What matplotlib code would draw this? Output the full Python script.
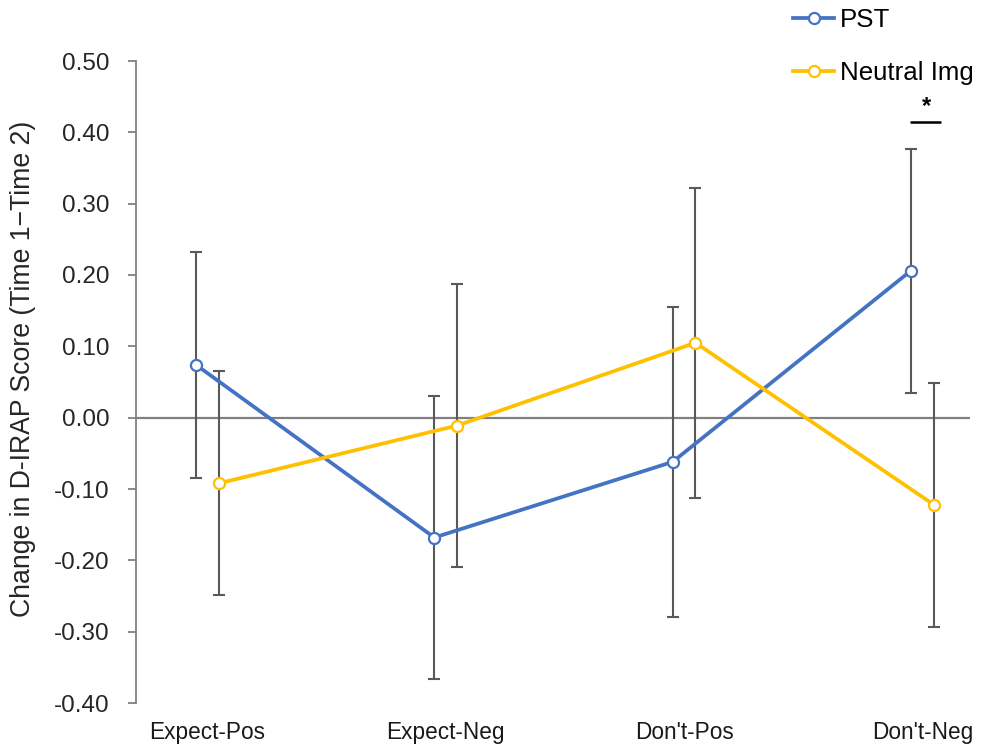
import matplotlib
matplotlib.use("Agg")
import matplotlib.pyplot as plt
import numpy as np

plt.rcParams['font.family'] = ['Liberation Sans', 'DejaVu Sans']

categories = ["Expect-Pos", "Expect-Neg", "Don't-Pos", "Don't-Neg"]
pst_mean = [0.074, -0.168, -0.062, 0.206]
pst_err = [0.158, 0.199, 0.217, 0.171]
neutral_mean = [-0.092, -0.011, 0.105, -0.122]
neutral_err = [0.157, 0.198, 0.217, 0.171]
yticks = [-0.40, -0.30, -0.20, -0.10, 0.00, 0.10, 0.20, 0.30, 0.40, 0.50]

blue = "#4472C4"
gold = "#FFC000"
bar_gray = "#595959"
axis_gray = "#808080"

fig = plt.figure(figsize=(9.88, 7.44), dpi=100)
ax = fig.add_axes([136 / 988, 41 / 744, 834 / 988, 642 / 744])

x = np.arange(len(categories))
shift = 0.048
x_pst = x - shift
x_neu = x + shift

# horizontal reference line at zero
ax.axhline(0, color=axis_gray, lw=1.6, zorder=1)

for xs, m, e in [(x_pst, pst_mean, pst_err), (x_neu, neutral_mean, neutral_err)]:
    ax.errorbar(xs, m, yerr=e, fmt='none', ecolor=bar_gray, elinewidth=1.5,
                capsize=4, capthick=1.5, zorder=2)

ax.plot(x_pst, pst_mean, color=blue, lw=2.7, marker='o', ms=8,
        mfc='white', mec=blue, mew=1.6, zorder=3, label="PST")
ax.plot(x_neu, neutral_mean, color=gold, lw=2.7, marker='o', ms=8,
        mfc='white', mec=gold, mew=1.6, zorder=4, label="Neutral Img")

# significance marker over the last pair
ax.plot([x_pst[3] - 0.004, x_neu[3] + 0.03], [0.414, 0.414], color='black',
        lw=1.8, solid_capstyle='butt', clip_on=False)
ax.text((x_pst[3] + x_neu[3]) / 2 + 0.018, 0.42, "*", ha='center', va='bottom',
        fontsize=17, fontweight='bold')

ax.set_xlim(-0.30, 3.20)
ax.set_ylim(-0.40, 0.50)
ax.set_yticks(yticks)
ax.set_yticklabels([f"{v:.2f}" for v in yticks], fontsize=17.5, color='#262626')
ax.set_xticks(x)
ax.set_xticklabels(categories, fontsize=16.3, color='#1a1a1a')
ax.tick_params(axis='x', length=0, pad=13)
ax.tick_params(axis='y', length=6, width=1.3, color=axis_gray, pad=13)

for side in ['top', 'right', 'bottom']:
    ax.spines[side].set_visible(False)
ax.spines['left'].set_color(axis_gray)
ax.spines['left'].set_linewidth(1.3)

ax.set_ylabel("Change in D-IRAP Score (Time 1\u2212Time 2)", fontsize=19.2, color='#262626')
ax.yaxis.set_label_coords(-0.12, 0.52)

fig.legend(loc='upper left', bbox_to_anchor=(793 / 988, 0.989), frameon=False,
           fontsize=18.6, handlelength=1.6, handletextpad=0.2, labelspacing=1.1,
           borderaxespad=0, borderpad=0)

fig.savefig("out.png", dpi=100)
